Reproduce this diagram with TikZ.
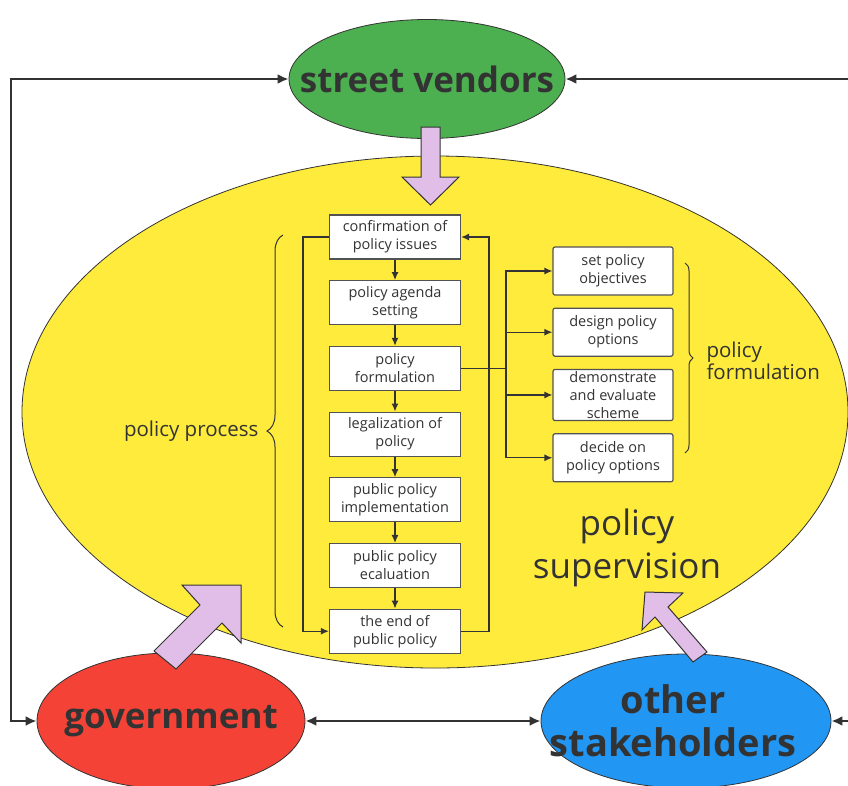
\documentclass[tikz,border=0pt]{standalone}
\usepackage{fontspec}
\setmainfont{Open Sans}
\usetikzlibrary{positioning, shapes.geometric, arrows.meta, decorations.pathreplacing}

\definecolor{vendorgreen}{RGB}{76,175,80}
\definecolor{govred}{RGB}{244,67,54}
\definecolor{otherblue}{RGB}{33,150,243}
\definecolor{supyellow}{RGB}{255,235,59}
\definecolor{arrowpink}{RGB}{225,190,231}
\definecolor{inkgray}{RGB}{51,51,51}

\begin{document}
\begin{tikzpicture}[x=1pt, y=-1pt,
        actor/.style={ellipse, draw=inkgray, line width=0.8pt, inner sep=0pt},
        actortext/.style={text=inkgray, align=center, font=\bfseries\fontsize{35}{43}\selectfont},
        stepbox/.style={draw=inkgray!85, fill=white, line width=1.2pt, minimum width=131pt, minimum height=44pt,
            inner sep=2pt, align=center, text=inkgray, font=\fontsize{14.5}{18}\selectfont},
        taskbox/.style={stepbox, minimum width=120pt, minimum height=48pt, rounded corners=2pt},
        link/.style={draw=inkgray, line width=2.6pt, {Latex[length=11pt,width=10pt]}-{Latex[length=11pt,width=10pt]}},
        flow/.style={draw=inkgray, line width=1.3pt, -{Latex[length=8pt,width=7pt]}},
        bracket/.style={draw=inkgray, line width=1pt, decorate, decoration={brace, amplitude=#1}},
        sidetext/.style={text=inkgray, align=left, font=\fontsize{20.5}{22}\selectfont},
        blockarrow/.style={fill=arrowpink, draw=inkgray, line width=1pt, line join=miter}
    ]
    \useasboundingbox (0,0) rectangle (848,785);

    % Stakeholder ellipses
    \node[actor, fill=supyellow, minimum width=826pt, minimum height=512pt] (supervision) at (435,412) {};
    \node[actor, fill=vendorgreen, minimum width=276pt, minimum height=119pt] (vendors) at (427,79) {};
    \node[actor, fill=govred, minimum width=268pt, minimum height=136pt] (gov) at (171,721) {};
    \node[actor, fill=otherblue, minimum width=290pt, minimum height=134pt] (others) at (686,721) {};

    \node[actortext] (vendorstext) at (vendors) {street vendors};
    \node[actortext] (govtext) at (gov) {government};
    \node[actortext, font=\bfseries\fontsize{38}{43}\selectfont] (otherstext) at (673,721) {other\\stakeholders};
    \node[text=inkgray, align=center, font=\fontsize{35}{43}\selectfont] (suptext) at (627,548) {policy\\supervision};

    % Policy process steps
    \node[stepbox] (b1) at (395,237) {confirmation of\\policy issues};
    \node[stepbox, below=20.5pt of b1] (b2) {policy agenda\\setting};
    \node[stepbox, below=20.5pt of b2] (b3) {policy\\formulation};
    \node[stepbox, below=20.5pt of b3] (b4) {legalization of\\policy};
    \node[stepbox, below=20.5pt of b4] (b5) {public policy\\implementation};
    \node[stepbox, below=20.5pt of b5] (b6) {public policy\\ecaluation};
    \node[stepbox, below=20.5pt of b6] (b7) {the end of\\public policy};

    % Policy formulation tasks
    \node[taskbox] (r1) at (613,271) {set policy\\objectives};
    \node[taskbox, below=12pt of r1] (r2) {design policy\\options};
    \node[taskbox, below=12pt of r2] (r3) {demonstrate\\and evaluate\\scheme};
    \node[taskbox, below=12pt of r3] (r4) {decide on\\policy options};

    % Step arrows
    \foreach \a/\b in {b1/b2, b2/b3, b3/b4, b4/b5, b5/b6, b6/b7}
        \draw[flow] (\a) -- (\b);
    \draw[flow] (b1.west) -- ++(-26,0) |- (b7.west);
    \draw[flow] (b7.east) -- ++(28,0) |- (b1.east);

    \coordinate (fork) at ([xshift=45pt]b3.east);
    \draw[draw=inkgray, line width=1.3pt] (b3.east) -- (fork);
    \foreach \r in {r1, r2, r3, r4}
        \draw[flow] (fork) |- (\r.west);

    % Braces
    \draw[bracket=16pt] (283,627) -- (283,235);
    \node[sidetext, anchor=east] (processtext) at (262,431) {policy process};
    \draw[bracket=8pt] (685,263) -- (685,453);
    \node[sidetext, anchor=west] (formtext) at (703,361) {policy\\formulation};

    % Outer links
    \coordinate (lcorner) at (11,79);
    \coordinate (rcorner) at (860,79);
    \draw[link] (vendors.west) -- (lcorner) |- (gov.west);
    \draw[link] (vendors.east) -- (rcorner) |- (others.east);
    \draw[link] (gov.east) -- (others.west);

    % Influence arrows
    \draw[blockarrow] (421,127) -- (440,127) -- (440,177) -- (459,177) -- (430.5,205) -- (402,177) -- (421,177) -- cycle;
    \draw[blockarrow] (241,585) -- (182,585) -- (200,605) -- (154,651) -- (176,669) -- (222,623) -- (241,643) -- cycle;
    \draw[blockarrow] (645,592) -- (683,593) -- (668,607) -- (707,652) -- (693,662) -- (655,617) -- (642,630) -- cycle;
\end{tikzpicture}
\end{document}
